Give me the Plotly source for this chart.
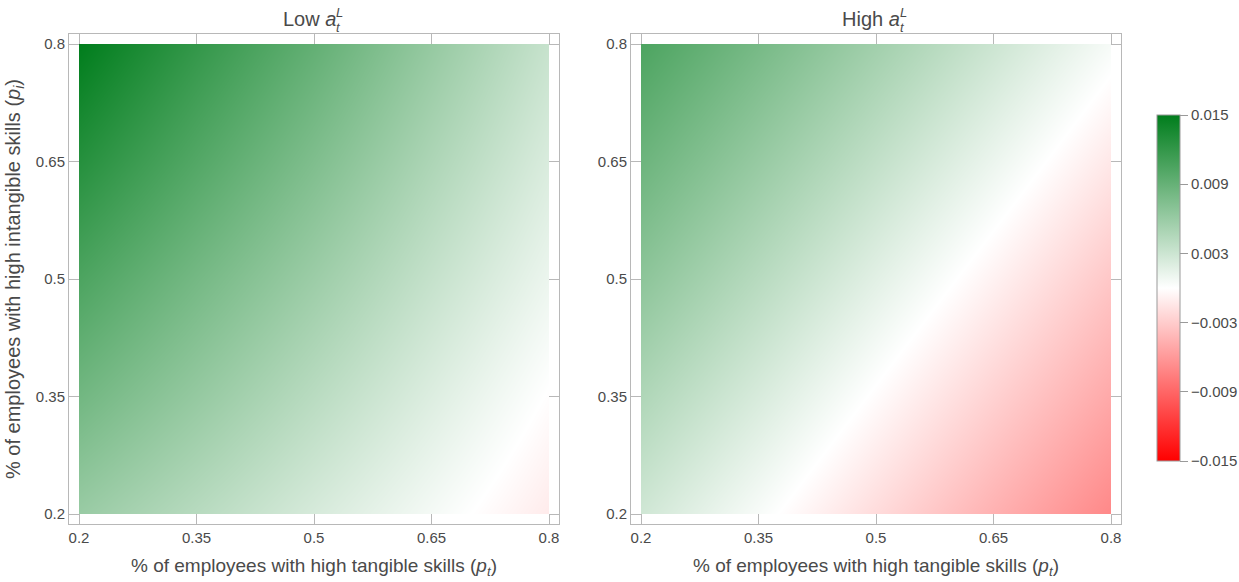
import plotly.graph_objects as go

# ---- data ----
pt_ticks = [0.2, 0.35, 0.5, 0.65, 0.8]          # % with high tangible skills (x)
pi_ticks = [0.2, 0.35, 0.5, 0.65, 0.8]          # % with high intangible skills (y)
tick_labels = ["0.2", "0.35", "0.5", "0.65", "0.8"]

# rows = p_i (bottom -> top), columns = p_t (left -> right)
z_low = [
    [0.0060, 0.0042, 0.0024, 0.0006, -0.0012],
    [0.0083, 0.0062, 0.0041, 0.0020, -0.0001],
    [0.0105, 0.0081, 0.0058, 0.0034, 0.0011],
    [0.0128, 0.0101, 0.0075, 0.0048, 0.0022],
    [0.0150, 0.0120, 0.0092, 0.0062, 0.0033],
]
z_high = [
    [0.0028, 0.0004, -0.0021, -0.0046, -0.0070],
    [0.0047, 0.0023, -0.0002, -0.0027, -0.0051],
    [0.0067, 0.0042, 0.0017, -0.0008, -0.0033],
    [0.0086, 0.0061, 0.0036, 0.0011, -0.0014],
    [0.0105, 0.0080, 0.0055, 0.0030, 0.0005],
]
cbar_vals = [0.015, 0.009, 0.003, -0.003, -0.009, -0.015]
cbar_text = ["0.015", "0.009", "0.003", "\u22120.003", "\u22120.009", "\u22120.015"]

W, H = 1239, 582
def fx(px): return px / W
def fy(py): return 1 - py / H

FONT = "Liberation Sans, Arial, sans-serif"
TXT = "#4a4a4a"
FRAME = "#b8b8b8"
pad = 10 / 470 * 0.6

colorscale = [[0.0, "rgb(255,0,0)"], [0.5, "rgb(255,255,255)"], [1.0, "rgb(0,125,28)"]]

fig = go.Figure()
fig.add_trace(go.Heatmap(x=pt_ticks, y=pi_ticks, z=z_low, zsmooth="best",
                         coloraxis="coloraxis", xaxis="x", yaxis="y", hoverinfo="skip"))
fig.add_trace(go.Heatmap(x=pt_ticks, y=pi_ticks, z=z_high, zsmooth="best",
                         coloraxis="coloraxis", xaxis="x2", yaxis="y2", hoverinfo="skip"))
# invisible traces for the frame axes
for xa, ya in (("x3", "y3"), ("x4", "y4")):
    fig.add_trace(go.Scatter(x=[0.5], y=[0.5], mode="markers", marker=dict(opacity=0),
                             xaxis=xa, yaxis=ya, hoverinfo="skip", showlegend=False))

hidden = dict(visible=False, range=[0.2, 0.8], fixedrange=True)
frame_ax = dict(range=[0.2 - pad, 0.8 + pad], showline=True, linecolor=FRAME, linewidth=1,
                mirror="ticks", ticks="inside", ticklen=10, tickcolor=FRAME, tickwidth=1,
                showgrid=False, zeroline=False, tickvals=pt_ticks, ticktext=tick_labels,
                tickfont=dict(family=FONT, size=15, color=TXT), fixedrange=True,
                automargin=False)

fig.update_layout(
    width=W, height=H, margin=dict(l=0, r=0, t=0, b=0, autoexpand=False),
    paper_bgcolor="white", plot_bgcolor="rgba(0,0,0,0)", showlegend=False,
    xaxis=dict(hidden, domain=[fx(79), fx(549)], anchor="y"),
    yaxis=dict(hidden, domain=[fy(514), fy(44)], anchor="x"),
    xaxis2=dict(hidden, domain=[fx(641), fx(1111)], anchor="y2"),
    yaxis2=dict(hidden, domain=[fy(514), fy(44)], anchor="x2"),
    xaxis3=dict(frame_ax, domain=[fx(69), fx(559)], anchor="y3"),
    yaxis3=dict(frame_ax, domain=[fy(524), fy(34)], anchor="x3"),
    xaxis4=dict(frame_ax, domain=[fx(631), fx(1121)], anchor="y4"),
    yaxis4=dict(frame_ax, domain=[fy(524), fy(34)], anchor="x4"),
    coloraxis=dict(
        cmin=-0.015, cmax=0.015, colorscale=colorscale,
        colorbar=dict(x=fx(1157), xanchor="left", y=fy(288), yanchor="middle",
                      xpad=0, ypad=0,
                      len=346 / H, lenmode="fraction", thickness=23, thicknessmode="pixels",
                      outlinewidth=1, outlinecolor="#9a9a9a",
                      tickvals=cbar_vals, ticktext=cbar_text, ticks="outside",
                      ticklen=8, tickcolor="#9a9a9a",
                      tickfont=dict(family=FONT, size=15, color=TXT)),
    ),
)

ann = []
# panel titles: "Low a" / "High a" with stacked super/subscripts L and t
for a_end, label in ((337, "Low"), (901, "High")):
    ann.append(dict(x=fx(a_end), y=fy(19), xref="paper", yref="paper", showarrow=False,
                    text=f"{label} <i>a</i>", font=dict(family=FONT, size=20, color=TXT),
                    xanchor="right", yanchor="middle", borderpad=0))
    ann.append(dict(x=fx(a_end - 2), y=fy(12), xref="paper", yref="paper", showarrow=False,
                    text="<i>L</i>", font=dict(family=FONT, size=13, color=TXT),
                    xanchor="left", yanchor="middle", borderpad=0))
    ann.append(dict(x=fx(a_end - 2), y=fy(27), xref="paper", yref="paper", showarrow=False,
                    text="<i>t</i>", font=dict(family=FONT, size=13, color=TXT),
                    xanchor="left", yanchor="middle", borderpad=0))
for cx in (314, 876):
    ann.append(dict(x=fx(cx), y=fy(567), xref="paper", yref="paper", showarrow=False,
                    text="% of employees with high tangible skills (<i>p</i><sub><i>t</i></sub>)",
                    font=dict(family=FONT, size=19, color=TXT), xanchor="center", yanchor="middle"))
ann.append(dict(x=fx(14), y=fy(279), xref="paper", yref="paper", showarrow=False, textangle=-90,
                text="% of employees with high intangible skills (<i>p</i><sub><i>i</i></sub>)",
                font=dict(family=FONT, size=20, color=TXT), xanchor="center", yanchor="middle"))
fig.update_layout(annotations=ann)

fig.write_html("out.html", config={"displayModeBar": False},
               post_script="document.body.style.margin='0';document.body.style.padding='0';")
